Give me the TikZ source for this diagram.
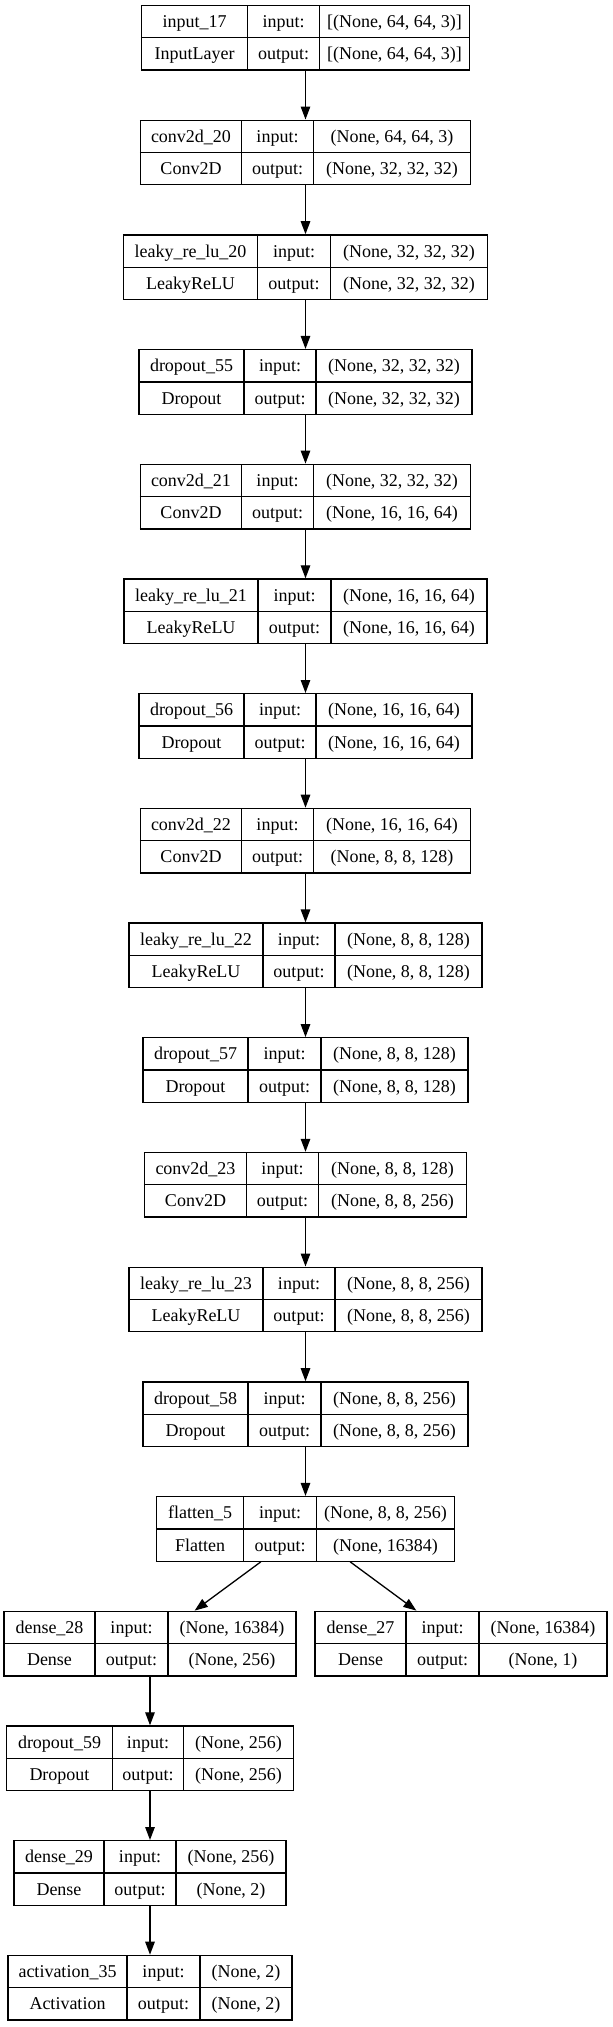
\documentclass[tikz,border=0pt]{standalone}
\usepackage{fontspec}
\setmainfont{Liberation Serif}
\usepackage{array}
\usepackage{tikz}
\usetikzlibrary{arrows.meta,positioning}

\newcolumntype{C}[1]{>{\centering\arraybackslash}p{#1}}
\setlength{\tabcolsep}{0pt}
\setlength{\arrayrulewidth}{1.3pt}
\newcommand{\rowstrut}{\rule[-9.5pt]{0pt}{31pt}}
\newcommand{\layerbox}[7]{%
  \begin{tabular}{|C{\dimexpr#5pt-1.3pt\relax}|C{\dimexpr#6pt-1.3pt\relax}|C{\dimexpr#7pt-1.3pt\relax}|}\hline
    \rowstrut#1 & input: & #3\\\hline
    \rowstrut#2 & output: & #4\\\hline
  \end{tabular}}

\begin{document}
\begin{tikzpicture}[x=1pt,y=1pt,>={Triangle[length=13pt,width=9.5pt]},line width=1.3pt,
    node distance=114.7pt,
    keras/.style={inner sep=0pt,outer sep=0pt,font=\fontsize{18pt}{21pt}\selectfont}]
        \useasboundingbox (0,0) rectangle (613,-2027);

        \node[keras] (input17) at (305.5,-37.75) {\layerbox{input\_17}{InputLayer}{[(None, 64, 64, 3)]}{[(None, 64, 64, 3)]}{106}{72}{150}};
        \node[keras] (conv2d20) [below of = input17] {\layerbox{conv2d\_20}{Conv2D}{(None, 64, 64, 3)}{(None, 32, 32, 32)}{101}{72}{157}};
        \node[keras] (leaky20) [below of = conv2d20] {\layerbox{leaky\_re\_lu\_20}{LeakyReLU}{(None, 32, 32, 32)}{(None, 32, 32, 32)}{134}{73}{157}};
        \node[keras] (dropout55) [below of = leaky20] {\layerbox{dropout\_55}{Dropout}{(None, 32, 32, 32)}{(None, 32, 32, 32)}{105}{72}{156}};
        \node[keras] (conv2d21) [below of = dropout55] {\layerbox{conv2d\_21}{Conv2D}{(None, 32, 32, 32)}{(None, 16, 16, 64)}{101}{72}{157}};
        \node[keras] (leaky21) [below of = conv2d21] {\layerbox{leaky\_re\_lu\_21}{LeakyReLU}{(None, 16, 16, 64)}{(None, 16, 16, 64)}{134}{73}{156}};
        \node[keras] (dropout56) [below of = leaky21] {\layerbox{dropout\_56}{Dropout}{(None, 16, 16, 64)}{(None, 16, 16, 64)}{105}{72}{156}};
        \node[keras] (conv2d22) [below of = dropout56] {\layerbox{conv2d\_22}{Conv2D}{(None, 16, 16, 64)}{(None, 8, 8, 128)}{101}{72}{157}};
        \node[keras] (leaky22) [below of = conv2d22] {\layerbox{leaky\_re\_lu\_22}{LeakyReLU}{(None, 8, 8, 128)}{(None, 8, 8, 128)}{134}{72}{147}};
        \node[keras] (dropout57) [below of = leaky22] {\layerbox{dropout\_57}{Dropout}{(None, 8, 8, 128)}{(None, 8, 8, 128)}{105}{73}{147}};
        \node[keras] (conv2d23) [below of = dropout57] {\layerbox{conv2d\_23}{Conv2D}{(None, 8, 8, 128)}{(None, 8, 8, 256)}{102}{72}{148}};
        \node[keras] (leaky23) [below of = conv2d23] {\layerbox{leaky\_re\_lu\_23}{LeakyReLU}{(None, 8, 8, 256)}{(None, 8, 8, 256)}{134}{72}{147}};
        \node[keras] (dropout58) [below of = leaky23] {\layerbox{dropout\_58}{Dropout}{(None, 8, 8, 256)}{(None, 8, 8, 256)}{105}{73}{147}};
        \node[keras] (flatten5) [below of = dropout58] {\layerbox{flatten\_5}{Flatten}{(None, 8, 8, 256)}{(None, 16384)}{87}{73}{138}};
        \node[keras] (dense28) [below of = flatten5, xshift=-155.5pt] {\layerbox{dense\_28}{Dense}{(None, 16384)}{(None, 256)}{91}{73}{128}};
        \node[keras] (dense27) [below of = flatten5, xshift=155.5pt] {\layerbox{dense\_27}{Dense}{(None, 16384)}{(None, 1)}{91}{73}{128}};
        \node[keras] (dropout59) [below of = dense28] {\layerbox{dropout\_59}{Dropout}{(None, 256)}{(None, 256)}{106}{71}{110}};
        \node[keras] (dense29) [below of = dropout59] {\layerbox{dense\_29}{Dense}{(None, 256)}{(None, 2)}{90}{72}{110}};
        \node[keras] (activation35) [below of = dense29] {\layerbox{activation\_35}{Activation}{(None, 2)}{(None, 2)}{119}{73}{92}};

        \path[->] (input17) edge (conv2d20)
                  (conv2d20) edge (leaky20)
                  (leaky20) edge (dropout55)
                  (dropout55) edge (conv2d21)
                  (conv2d21) edge (leaky21)
                  (leaky21) edge (dropout56)
                  (dropout56) edge (conv2d22)
                  (conv2d22) edge (leaky22)
                  (leaky22) edge (dropout57)
                  (dropout57) edge (conv2d23)
                  (conv2d23) edge (leaky23)
                  (leaky23) edge (dropout58)
                  (dropout58) edge (flatten5);
        \path[->] (flatten5) edge (dense28)
                  (flatten5) edge (dense27);
        \path[->] (dense28) edge (dropout59)
                  (dropout59) edge (dense29)
                  (dense29) edge (activation35);
\end{tikzpicture}
\end{document}
